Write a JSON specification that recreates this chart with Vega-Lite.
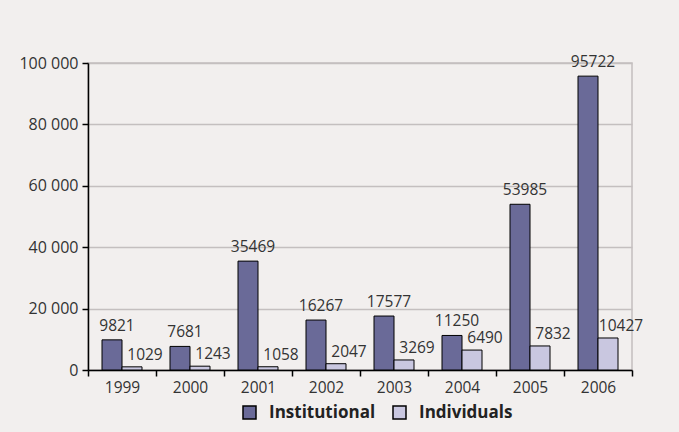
{
  "$schema": "https://vega.github.io/schema/vega-lite/v6.json",
  "width": 544,
  "height": 307,
  "autosize": {"type": "none"},
  "padding": {"left": 88, "top": 63, "right": 47, "bottom": 62},
  "background": "#f2efee",
  "config": {
    "font": "Open Sans",
    "view": {"stroke": "#c4bfbf", "strokeWidth": 1.5, "fill": "#f2efee"}
  },
  "data": {
    "values": [
      {"year": "1999", "series": "Institutional", "value": 9821},
      {"year": "1999", "series": "Individuals", "value": 1029},
      {"year": "2000", "series": "Institutional", "value": 7681},
      {"year": "2000", "series": "Individuals", "value": 1243},
      {"year": "2001", "series": "Institutional", "value": 35469},
      {"year": "2001", "series": "Individuals", "value": 1058},
      {"year": "2002", "series": "Institutional", "value": 16267},
      {"year": "2002", "series": "Individuals", "value": 2047},
      {"year": "2003", "series": "Institutional", "value": 17577},
      {"year": "2003", "series": "Individuals", "value": 3269},
      {"year": "2004", "series": "Institutional", "value": 11250},
      {"year": "2004", "series": "Individuals", "value": 6490},
      {"year": "2005", "series": "Institutional", "value": 53985},
      {"year": "2005", "series": "Individuals", "value": 7832},
      {"year": "2006", "series": "Institutional", "value": 95722},
      {"year": "2006", "series": "Individuals", "value": 10427}
    ]
  },
  "encoding": {
    "x": {
      "field": "year", "type": "nominal",
      "scale": {"paddingInner": 0, "paddingOuter": 0},
      "axis": {
        "title": null, "labelAngle": 0, "labelFontSize": 15.5, "labelColor": "#333333",
        "domainColor": "#000000", "domainWidth": 1.5, "tickColor": "#000000", "tickWidth": 1.5,
        "tickSize": 6, "tickBand": "extent", "labelPadding": 4
      }
    },
    "xOffset": {
      "field": "series", "type": "nominal", "sort": ["Institutional", "Individuals"],
      "scale": {"paddingInner": 0, "paddingOuter": 0.7}
    },
    "y": {
      "field": "value", "type": "quantitative",
      "scale": {"domain": [0, 100000], "nice": false},
      "axis": {
        "title": null, "values": [0, 20000, 40000, 60000, 80000, 100000],
        "labelExpr": "replace(format(datum.value, ','), /,/g, ' ')",
        "labelFontSize": 16, "labelColor": "#333333",
        "domainColor": "#000000", "domainWidth": 1.5, "tickColor": "#000000", "tickWidth": 1.5,
        "tickSize": 6, "labelPadding": 4,
        "gridColor": "#c4bfbf", "gridWidth": 1.5
      }
    }
  },
  "layer": [
    {
      "mark": {"type": "bar", "stroke": "#000000", "strokeWidth": 1},
      "encoding": {
        "color": {
          "field": "series", "type": "nominal",
          "scale": {"domain": ["Institutional", "Individuals"], "range": ["#6a6a98", "#c9c7e0"]},
          "legend": {
            "title": null, "orient": "none", "direction": "horizontal",
            "legendX": 153, "legendY": 341,
            "symbolType": "square", "symbolSize": 169, "symbolStrokeColor": "#000000", "symbolStrokeWidth": 1.5,
            "labelFontSize": 17, "labelFontWeight": "bold", "labelColor": "#222222",
            "labelOffset": 11, "columnPadding": 14
          }
        }
      }
    },
    {
      "transform": [{"filter": "datum.series === 'Institutional'"}],
      "mark": {"type": "text", "baseline": "alphabetic", "dy": -9, "dx": 5, "fontSize": 15.5, "color": "#333333"},
      "encoding": {"text": {"field": "value", "type": "quantitative", "format": "d"}}
    },
    {
      "transform": [{"filter": "datum.series === 'Individuals'"}],
      "mark": {"type": "text", "baseline": "alphabetic", "dy": -7, "dx": 13, "fontSize": 15.5, "color": "#333333"},
      "encoding": {"text": {"field": "value", "type": "quantitative", "format": "d"}}
    }
  ]
}
